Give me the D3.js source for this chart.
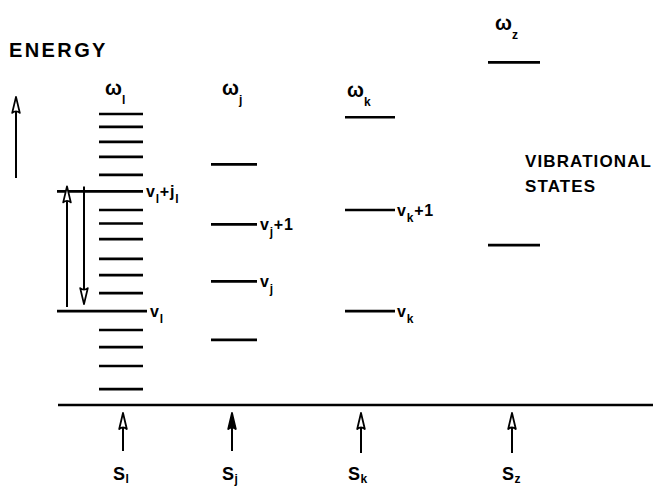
<!DOCTYPE html>
<html>
<head>
<meta charset="utf-8">
<script src="https://cdn.jsdelivr.net/npm/d3@7"></script>
<style>
  html, body { margin: 0; padding: 0; background: #fff; }
  svg { display: block; }
</style>
</head>
<body>
<svg id="chart" width="653" height="488"></svg>
<script>
// Vibrational modes and their level energies (arbitrary energy units above the ground line)
const modes = ["l", "j", "k", "z"];
const levelsL = [97, 92.7, 87.7, 82.7, 76.7, 71.2, 65, 60.5, 55.3, 48.7, 43.3, 37.3, 31.3, 25, 19.3, 13, 5.3];
const levelsJ = [80.2, 60.2, 41.2, 21.7];
const levelsK = [95.9, 65, 31.3];
const levelsZ = [114.2, 53.3];
const levelSets = [levelsL, levelsJ, levelsK, levelsZ];

// The two l-levels joined by the up/down transition arrows
const transitionFrom = 31.3;
const transitionTo = 71.2;

// Named states: mode, energy, label parts ([text, isSubscript])
const stateModes = ["l", "l", "j", "j", "k", "k"];
const stateEnergies = [71.2, 31.3, 60.2, 41.2, 65, 31.3];
const stateLabels = [
  [["v", 0], ["l", 1], ["+", 0], ["j", 0], ["l", 1]],
  [["v", 0], ["l", 1]],
  [["v", 0], ["j", 1], ["+", 0], ["1", 0]],
  [["v", 0], ["j", 1]],
  [["v", 0], ["k", 1], ["+", 0], ["1", 0]],
  [["v", 0], ["k", 1]]
];

// Mode frequency and source labels
const omegaSubs = ["l", "j", "k", "z"];
const sourceSubs = ["l", "j", "k", "z"];

// ---- layout ----
const svg = d3.select("#chart");
const y = d3.scaleLinear().domain([0, 100]).range([405, 105]);
const xCenter = d3.scaleOrdinal().domain(modes).range([121, 234, 370, 514]);
const halfWidth = d3.scaleOrdinal().domain(modes).range([22, 23, 25, 26]);
const arrowX = d3.scaleOrdinal().domain(modes).range([123, 232, 361, 512]);
const omegaDx = d3.scaleOrdinal().domain(modes).range([-16, -12, -23, -19]);
const omegaE = d3.scaleOrdinal().domain(modes).range([103.3, 103.3, 102.6, 125]);
const labelGap = d3.scaleOrdinal().domain(modes).range([3, 3, 2, 3]);

const ink = "#000";
const fontFamily = "'Liberation Sans', Arial, sans-serif";

// ground line
svg.append("line")
  .attr("x1", 58).attr("x2", 653)
  .attr("y1", y(0)).attr("y2", y(0))
  .attr("stroke", ink).attr("stroke-width", 2.5);

// level lines
const levelData = [];
levelSets.forEach((set, i) => set.forEach(e => levelData.push({ mode: modes[i], e })));
const longLeft = 57;
svg.append("g").selectAll("line").data(levelData).join("line")
  .attr("x1", d => (d.mode === "l" && (d.e === transitionFrom || d.e === transitionTo)) ? longLeft : xCenter(d.mode) - halfWidth(d.mode))
  .attr("x2", d => xCenter(d.mode) + halfWidth(d.mode) + ((d.mode === "l" && d.e === transitionFrom) ? 4 : 0))
  .attr("y1", d => y(d.e)).attr("y2", d => y(d.e))
  .attr("stroke", ink).attr("stroke-width", 2.6);

// text with subscripts
function richText(g, x, yy, parts, size, subSize, weight, subShift, spacing) {
  const t = g.append("text")
    .attr("x", x).attr("y", yy)
    .attr("font-family", fontFamily)
    .attr("font-weight", weight)
    .attr("font-size", size)
    .attr("letter-spacing", spacing || 0)
    .attr("fill", ink);
  let shifted = false;
  parts.forEach(([txt, sub]) => {
    const ts = t.append("tspan").text(txt);
    if (sub && !shifted) { ts.attr("dy", subShift).attr("font-size", subSize); shifted = true; }
    else if (sub) { ts.attr("font-size", subSize); }
    else if (!sub && shifted) { ts.attr("dy", -subShift); shifted = false; }
  });
  return t;
}

// state labels
const stateG = svg.append("g");
stateModes.forEach((m, i) => {
  const isLong = m === "l" && stateEnergies[i] === transitionFrom;
  const x0 = xCenter(m) + halfWidth(m) + (isLong ? 4 : 0) + labelGap(m);
  richText(stateG, x0, y(stateEnergies[i]) + 6, stateLabels[i], 16, 12, "bold", 6, 0.8);
});

// omega labels
const omegaG = svg.append("g");
modes.forEach((m, i) => {
  richText(omegaG, xCenter(m) + omegaDx(m), y(omegaE(m)), [["ω", 0], [omegaSubs[i], 1]], 20, 12, "bold", 9, 0);
});

// arrows
function arrow(g, x, yTail, yTip, filled) {
  const dir = yTip < yTail ? 1 : -1;   // 1 = pointing up
  const headLen = 16, headW = 3.8;
  g.append("line")
    .attr("x1", x).attr("x2", x)
    .attr("y1", yTail).attr("y2", yTip + dir * headLen * 0.6)
    .attr("stroke", ink).attr("stroke-width", 2);
  const base = yTip + dir * headLen;
  g.append("path")
    .attr("d", `M${x},${yTip} L${x - headW},${base} Q${x},${base - dir * 3} ${x + headW},${base} Z`)
    .attr("fill", filled ? ink : "#fff")
    .attr("stroke", ink).attr("stroke-width", 1.8)
    .attr("stroke-linejoin", "round");
}
const arrowG = svg.append("g");

// energy direction arrow
arrow(arrowG, 16, y(75.7), y(102.7), false);

// up/down transition between the two joined l-levels
arrow(arrowG, 67, y(transitionFrom) - 4, y(transitionTo) - 5, false);
arrow(arrowG, 84, y(transitionTo) - 5, y(transitionFrom) - 7, false);

// source arrows under the ground line
modes.forEach((m, i) => {
  arrow(arrowG, arrowX(m), 451 + (i > 1 ? 2 : 0), 413, m === "j");
});

// source labels
const srcG = svg.append("g");
modes.forEach((m, i) => {
  richText(srcG, arrowX(m) - 10 - (i === 2 ? 3 : 0), 480, [["S", 0], [sourceSubs[i], 1]], 18, 12, "bold", 3, 0.5);
});

// titles
svg.append("text")
  .attr("x", 9).attr("y", 57)
  .attr("font-family", fontFamily)
  .attr("font-size", 20)
  .attr("font-weight", "bold")
  .attr("letter-spacing", 2.4)
  .attr("fill", ink)
  .text("ENERGY");

svg.append("text")
  .attr("x", 525).attr("y", 167)
  .attr("font-family", fontFamily)
  .attr("font-weight", "bold")
  .attr("font-size", 17)
  .attr("letter-spacing", 1.1)
  .attr("fill", ink)
  .text("VIBRATIONAL");
svg.append("text")
  .attr("x", 525).attr("y", 192)
  .attr("font-family", fontFamily)
  .attr("font-weight", "bold")
  .attr("font-size", 17)
  .attr("letter-spacing", 1.1)
  .attr("fill", ink)
  .text("STATES");
</script>
</body>
</html>
